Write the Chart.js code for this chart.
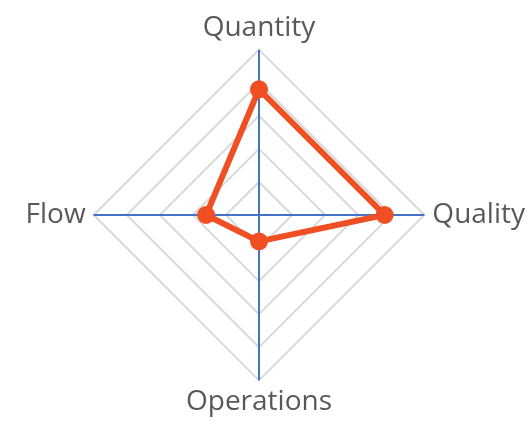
<!DOCTYPE html>
<html>
<head>
<meta charset="utf-8">
<script src="https://cdn.jsdelivr.net/npm/chart.js@4"></script>
<style>
  html, body { margin: 0; padding: 0; background: #fff; overflow: hidden; }
  /* a little wider than the window: the Quality label ends right at the edge */
  #wrap { width: 542px; height: 421px; }
</style>
</head>
<body>
<div id="wrap"><canvas id="chart"></canvas></div>
<script>
const categories = ['Quantity', 'Quality', 'Operations', 'Flow'];
const scores = [3.8, 3.8, 0.8, 1.6];
const scaleMax = 5;
const scaleStep = 1;

new Chart(document.getElementById('chart'), {
  type: 'radar',
  data: {
    labels: categories,
    datasets: [{
      data: scores,
      borderColor: '#F04E23',
      backgroundColor: 'rgba(0,0,0,0)',
      borderWidth: 6,
      pointRadius: 9,
      pointBackgroundColor: '#F04E23',
      pointBorderColor: '#F04E23',
      pointBorderWidth: 0,
      fill: false
    }]
  },
  options: {
    responsive: true,
    maintainAspectRatio: false,
    animation: false,
    layout: { padding: { top: 13, bottom: 4, left: 10, right: 0 } },
    plugins: { legend: { display: false }, tooltip: { enabled: false } },
    scales: {
      r: {
        min: 0,
        max: scaleMax,
        ticks: { display: false, stepSize: scaleStep },
        grid: { color: '#D9D9D9', lineWidth: 2 },
        angleLines: { color: '#4472C4', lineWidth: 2 },
        pointLabels: {
          color: '#595959',
          padding: 8,
          font: { family: 'Open Sans', size: 28, lineHeight: 1.0 }
        }
      }
    }
  }
});
</script>
</body>
</html>
